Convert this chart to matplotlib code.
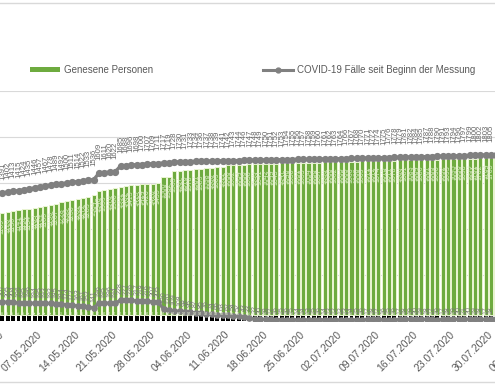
import matplotlib
matplotlib.use("Agg")
import matplotlib.pyplot as plt
from matplotlib.lines import Line2D
from matplotlib.patches import Patch
import pandas as pd

plt.rcParams['font.family'] = ['Liberation Sans', 'DejaVu Sans']

dates = pd.date_range('2020-04-30', '2020-08-06', freq='D')
date_labels = [d.strftime('%d.%m.%Y') for d in dates]

cumulative = [1391, 1402, 1413, 1415, 1424, 1435, 1446,
              1457, 1467, 1478, 1489, 1492, 1500, 1511, 1514, 1522, 1533,
              1536, 1609, 1611, 1620, 1622, 1685, 1688, 1696, 1698, 1700,
              1707, 1709, 1711, 1717, 1719, 1728, 1730, 1731, 1733, 1734,
              1736, 1737, 1738, 1739, 1741, 1742, 1743, 1744, 1746, 1747,
              1748, 1749, 1750, 1751, 1752, 1753, 1754, 1755, 1756, 1757,
              1758, 1759, 1760, 1761, 1762, 1763, 1764, 1766, 1767, 1768,
              1770, 1771, 1772, 1774, 1775, 1776, 1778, 1779, 1781, 1782,
              1784, 1785, 1787, 1788, 1790, 1791, 1793, 1794, 1796, 1797,
              1799, 1800, 1802, 1803, 1805, 1806, 1808, 1809, 1811, 1812,
              1814, 1815]

recovered = [1109, 1120, 1130, 1141, 1152, 1154, 1163,
             1174, 1185, 1196, 1207, 1228, 1239, 1250, 1261, 1272, 1283,
             1304, 1348, 1359, 1370, 1380, 1391, 1402, 1413, 1415, 1424,
             1426, 1428, 1435, 1500, 1502, 1565, 1567, 1576, 1578, 1587,
             1589, 1598, 1600, 1609, 1611, 1630, 1632, 1634, 1636, 1638,
             1639, 1641, 1642, 1644, 1645, 1647, 1648, 1650, 1651, 1653,
             1654, 1656, 1657, 1659, 1660, 1662, 1663, 1665, 1666, 1668,
             1669, 1671, 1672, 1674, 1675, 1677, 1678, 1680, 1681, 1683,
             1684, 1686, 1687, 1689, 1690, 1692, 1693, 1695, 1696, 1698,
             1699, 1701, 1702, 1704, 1705, 1707, 1708, 1710, 1711, 1713,
             1714, 1716]

active = [207, 205, 204, 196, 195, 196, 194,
          195, 193, 192, 185, 184, 174, 172, 163, 161, 152,
          141, 196, 195, 196, 194, 228, 227, 226, 217, 218,
          216, 207, 205, 130, 120, 109, 108, 98, 96, 87,
          85, 76, 74, 65, 63, 62, 54, 52, 43, 33,
          22, 20, 18, 17, 16, 15, 16, 15, 14, 14,
          13, 15, 16, 14, 13, 12, 12, 13, 14, 15,
          16, 17, 18, 17, 16, 15, 16, 17, 18, 19,
          20, 19, 18, 17, 16, 17, 18, 19, 20, 21,
          20, 19, 18, 17, 18, 19, 20, 21, 20, 19,
          18, 17]

deaths = [60, 60, 61, 61, 61, 62, 62,
          62, 62, 62, 63, 63, 63, 63, 63, 63, 63,
          64, 64, 64, 64, 64, 64, 64, 64, 64, 64,
          64, 64, 64, 64, 64, 64, 64, 64, 64, 64,
          64, 64, 64, 64, 64, 65, 65, 65, 65, 65,
          65, 65, 65, 65, 65, 65, 65, 65, 65, 65,
          65, 65, 65, 65, 65, 65, 65, 65, 65, 65,
          65, 65, 65, 65, 65, 65, 65, 65, 65, 65,
          65, 65, 65, 65, 65, 65, 65, 65, 65, 65,
          65, 65, 65, 65, 65, 65, 65, 65, 65, 65,
          65, 65]

GREEN = '#6EAB3F'
GRAY = '#808080'
TXT = '#595959'

fig = plt.figure(figsize=(4.95, 3.86), dpi=100)
ax = fig.add_axes([0.0, 65 / 386, 1.0, 230 / 386])

x = list(range(len(dates)))

ax.bar(x, deaths, width=0.72, color='black', zorder=2)
ax.bar(x, recovered, bottom=deaths, width=0.76, color=GREEN,
       edgecolor='#eaf5d2', linewidth=0.7, zorder=2)
ax.plot(x, cumulative, color=GRAY, lw=2.4, marker='o', ms=4.2, zorder=4)
ax.plot(x, active, color=GRAY, lw=2.2, marker='o', ms=3.8, zorder=4)

for i in x:
    ax.annotate(str(cumulative[i]), (i, cumulative[i]), xytext=(0, 9.5),
                textcoords='offset points', rotation=90, ha='center', va='bottom',
                fontsize=5.6, color='#666666', zorder=5)
    top = recovered[i] + deaths[i]
    ax.annotate(str(recovered[i]), (i, top), xytext=(0, -4),
                textcoords='offset points', rotation=90, ha='center', va='top',
                fontsize=5, color='#dcecc6', zorder=5)
    ax.annotate(str(active[i]), (i, active[i]), xytext=(0, 4),
                textcoords='offset points', rotation=90, ha='center', va='bottom',
                fontsize=5, color='#777777', zorder=5)
    ax.annotate(str(deaths[i]), (i, deaths[i]), xytext=(0, 1),
                textcoords='offset points', rotation=90, ha='center', va='bottom',
                fontsize=2.5, color='#e8f4d8', zorder=5)

ax.set_ylim(0, 2500)
ax.set_yticks([0, 500, 1000, 1500, 2000, 2500])
ax.yaxis.grid(True, color='#d9d9d9', lw=0.8, zorder=0)
ax.set_axisbelow(True)

XMIN, XMAX = -0.449, 91.73
tick_idx = [i for i in range(0, len(dates), 7) if XMIN <= i <= XMAX]
ax.set_xticks(tick_idx)
ax.set_xticklabels([date_labels[i] for i in tick_idx], rotation=45, ha='right',
                   va='center', rotation_mode='anchor', fontsize=7.5, color=TXT)
ax.set_xlim(XMIN, XMAX)
ax.tick_params(axis='x', length=0, pad=8.5)
ax.tick_params(axis='y', length=0, labelleft=False)
for s in ax.spines.values():
    s.set_visible(False)

# the next weekly category label, mostly outside the cropped view
for i in range(0, len(dates), 7):
    if i > XMAX:
        ax.annotate(date_labels[i], (i, 0), xycoords=('data', 'axes fraction'),
                    xytext=(0, -8.5), textcoords='offset points', rotation=45,
                    ha='right', va='center', rotation_mode='anchor',
                    fontsize=7.5, color=TXT, annotation_clip=False)

handles = [Patch(facecolor=GREEN, edgecolor='none'),
           Line2D([0], [0], color=GRAY, lw=2.2, marker='o', ms=3.5)]
fig.legend(handles, ['Genesene Personen', 'COVID-19 Fälle seit Beginn der Messung'],
           loc='center left', bbox_to_anchor=(30 / 495, (386 - 70) / 386), ncol=2,
           frameon=False, fontsize=7, handlelength=3.1, handleheight=0.45,
           handletextpad=0.4, columnspacing=11.3, borderpad=0, borderaxespad=0,
           labelcolor=TXT)

fig.add_artist(Line2D([0, 1], [383 / 386, 383 / 386], transform=fig.transFigure,
                      color='#d9d9d9', lw=1))
fig.add_artist(Line2D([0, 1], [4 / 386, 4 / 386], transform=fig.transFigure,
                      color='#d9d9d9', lw=1))

fig.savefig('out.png', dpi=100)
